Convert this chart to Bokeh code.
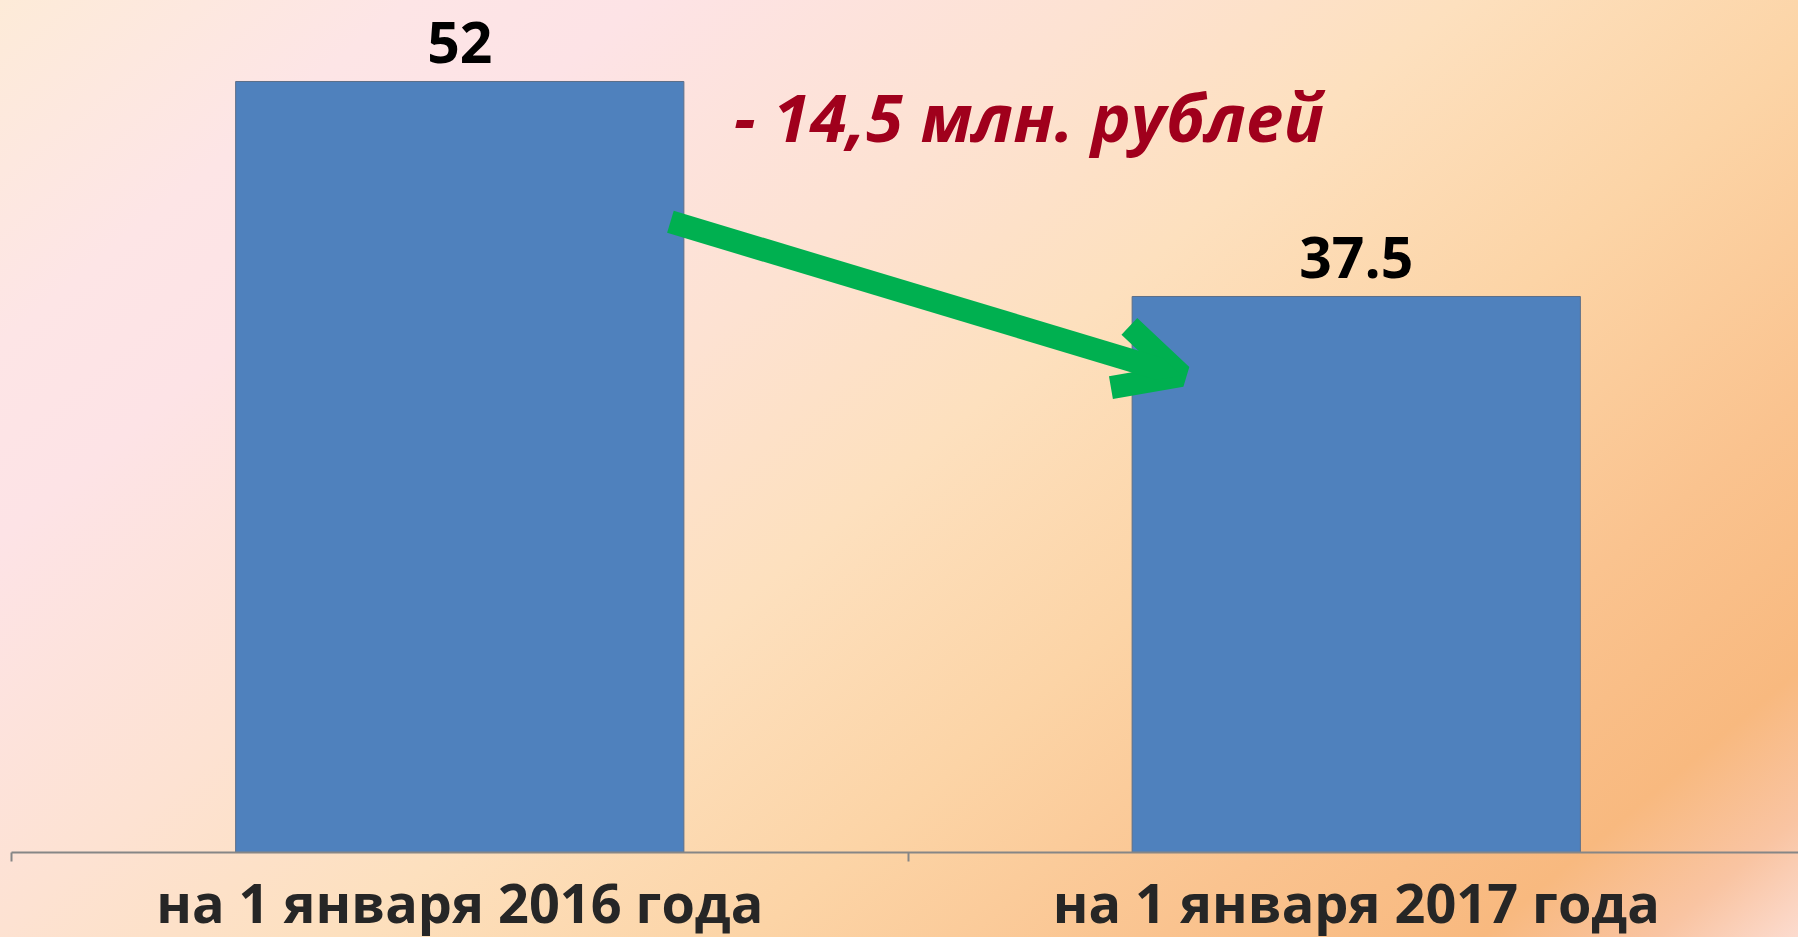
from bokeh.plotting import figure
from bokeh.models import (Range1d, LinearAxis, FixedTicker, ColumnDataSource,
                          Label, LabelSet, Arrow, OpenHead)
from bokeh.core.properties import value
from bokeh.embed import file_html
from bokeh.resources import INLINE

# ---- data ----
categories = ["на 1 января 2016 года", "на 1 января 2017 года"]
values = [52, 37.5]
value_labels = ["52", "37.5"]
unit_text = "млн. рублей"

# ---- derived ----
xs = [i + 0.5 for i in range(len(categories))]
diff = values[0] - values[1]
diff_text = "- " + f"{diff:.1f}".replace(".", ",") + " " + unit_text

FONT = "Open Sans"
px_per_cat = 896.5
px_per_unit = 14.827
frame_w, frame_h = 1787, 852

p = figure(frame_width=frame_w, frame_height=frame_h,
           output_backend="svg", toolbar_location=None,
           x_range=Range1d(0, frame_w / px_per_cat),
           y_range=Range1d(0, frame_h / px_per_unit),
           x_axis_location=None, y_axis_location=None,
           min_border_left=11, min_border_right=0, min_border_top=0,
           min_border_bottom=85)
p.background_fill_alpha = 0
p.border_fill_alpha = 0
p.outline_line_color = None
p.xgrid.visible = False
p.ygrid.visible = False
p.styles = {
    "background": "linear-gradient(140deg, #FDEBD8 0%, #FDE5E6 14%, #FDE3E6 22%, "
                  "#FDE2D2 38%, #FDE0BE 50%, #FCD4A6 64%, #FAC38F 78%, "
                  "#F8B97F 89%, #F9C4A2 95%, #FCDCD0 100%)",
}

src = ColumnDataSource(dict(x=xs, top=values, label=value_labels))

p.vbar(x="x", top="top", bottom=0, width=0.5, source=src,
       fill_color="#4F81BD", line_color="#5d6f88", line_width=1)

labels = LabelSet(x="x", y="top", text="label", source=src,
                  text_align="center", text_baseline="alphabetic", y_offset=18,
                  text_font=value(FONT), text_font_style="bold",
                  text_font_size="57px", text_color="#000000")
p.add_layout(labels)

# arrow showing the decrease
arrow = Arrow(x_start=xs[0] + 0.235, y_start=values[0] * 0.818,
              x_end=xs[1] - 0.195, y_end=values[1] * 0.858,
              line_color="#00B050", line_width=23,
              end=OpenHead(size=64, line_color="#00B050", line_width=23))
p.add_layout(arrow)

diff_label = Label(x=xs[0] + 0.306, y=values[0] * 0.955, text=diff_text,
                   text_baseline="middle", text_align="left",
                   text_font=FONT, text_font_style="bold italic",
                   text_font_size="67px", text_color="#A0001C")
p.add_layout(diff_label)

ax = LinearAxis(ticker=FixedTicker(ticks=xs, minor_ticks=[0, 1, 2]),
                major_label_overrides={x: c for x, c in zip(xs, categories)},
                major_tick_line_color=None, major_tick_out=0, major_tick_in=0,
                minor_tick_out=9, minor_tick_in=0,
                minor_tick_line_color="#868686", minor_tick_line_width=2,
                axis_line_color="#868686", axis_line_width=2,
                major_label_standoff=3,
                major_label_text_font=FONT, major_label_text_font_style="bold",
                major_label_text_font_size="54px",
                major_label_text_color="#262626")
p.add_layout(ax, "below")

html = file_html(p, INLINE)
open("out.html", "w").write(html)
